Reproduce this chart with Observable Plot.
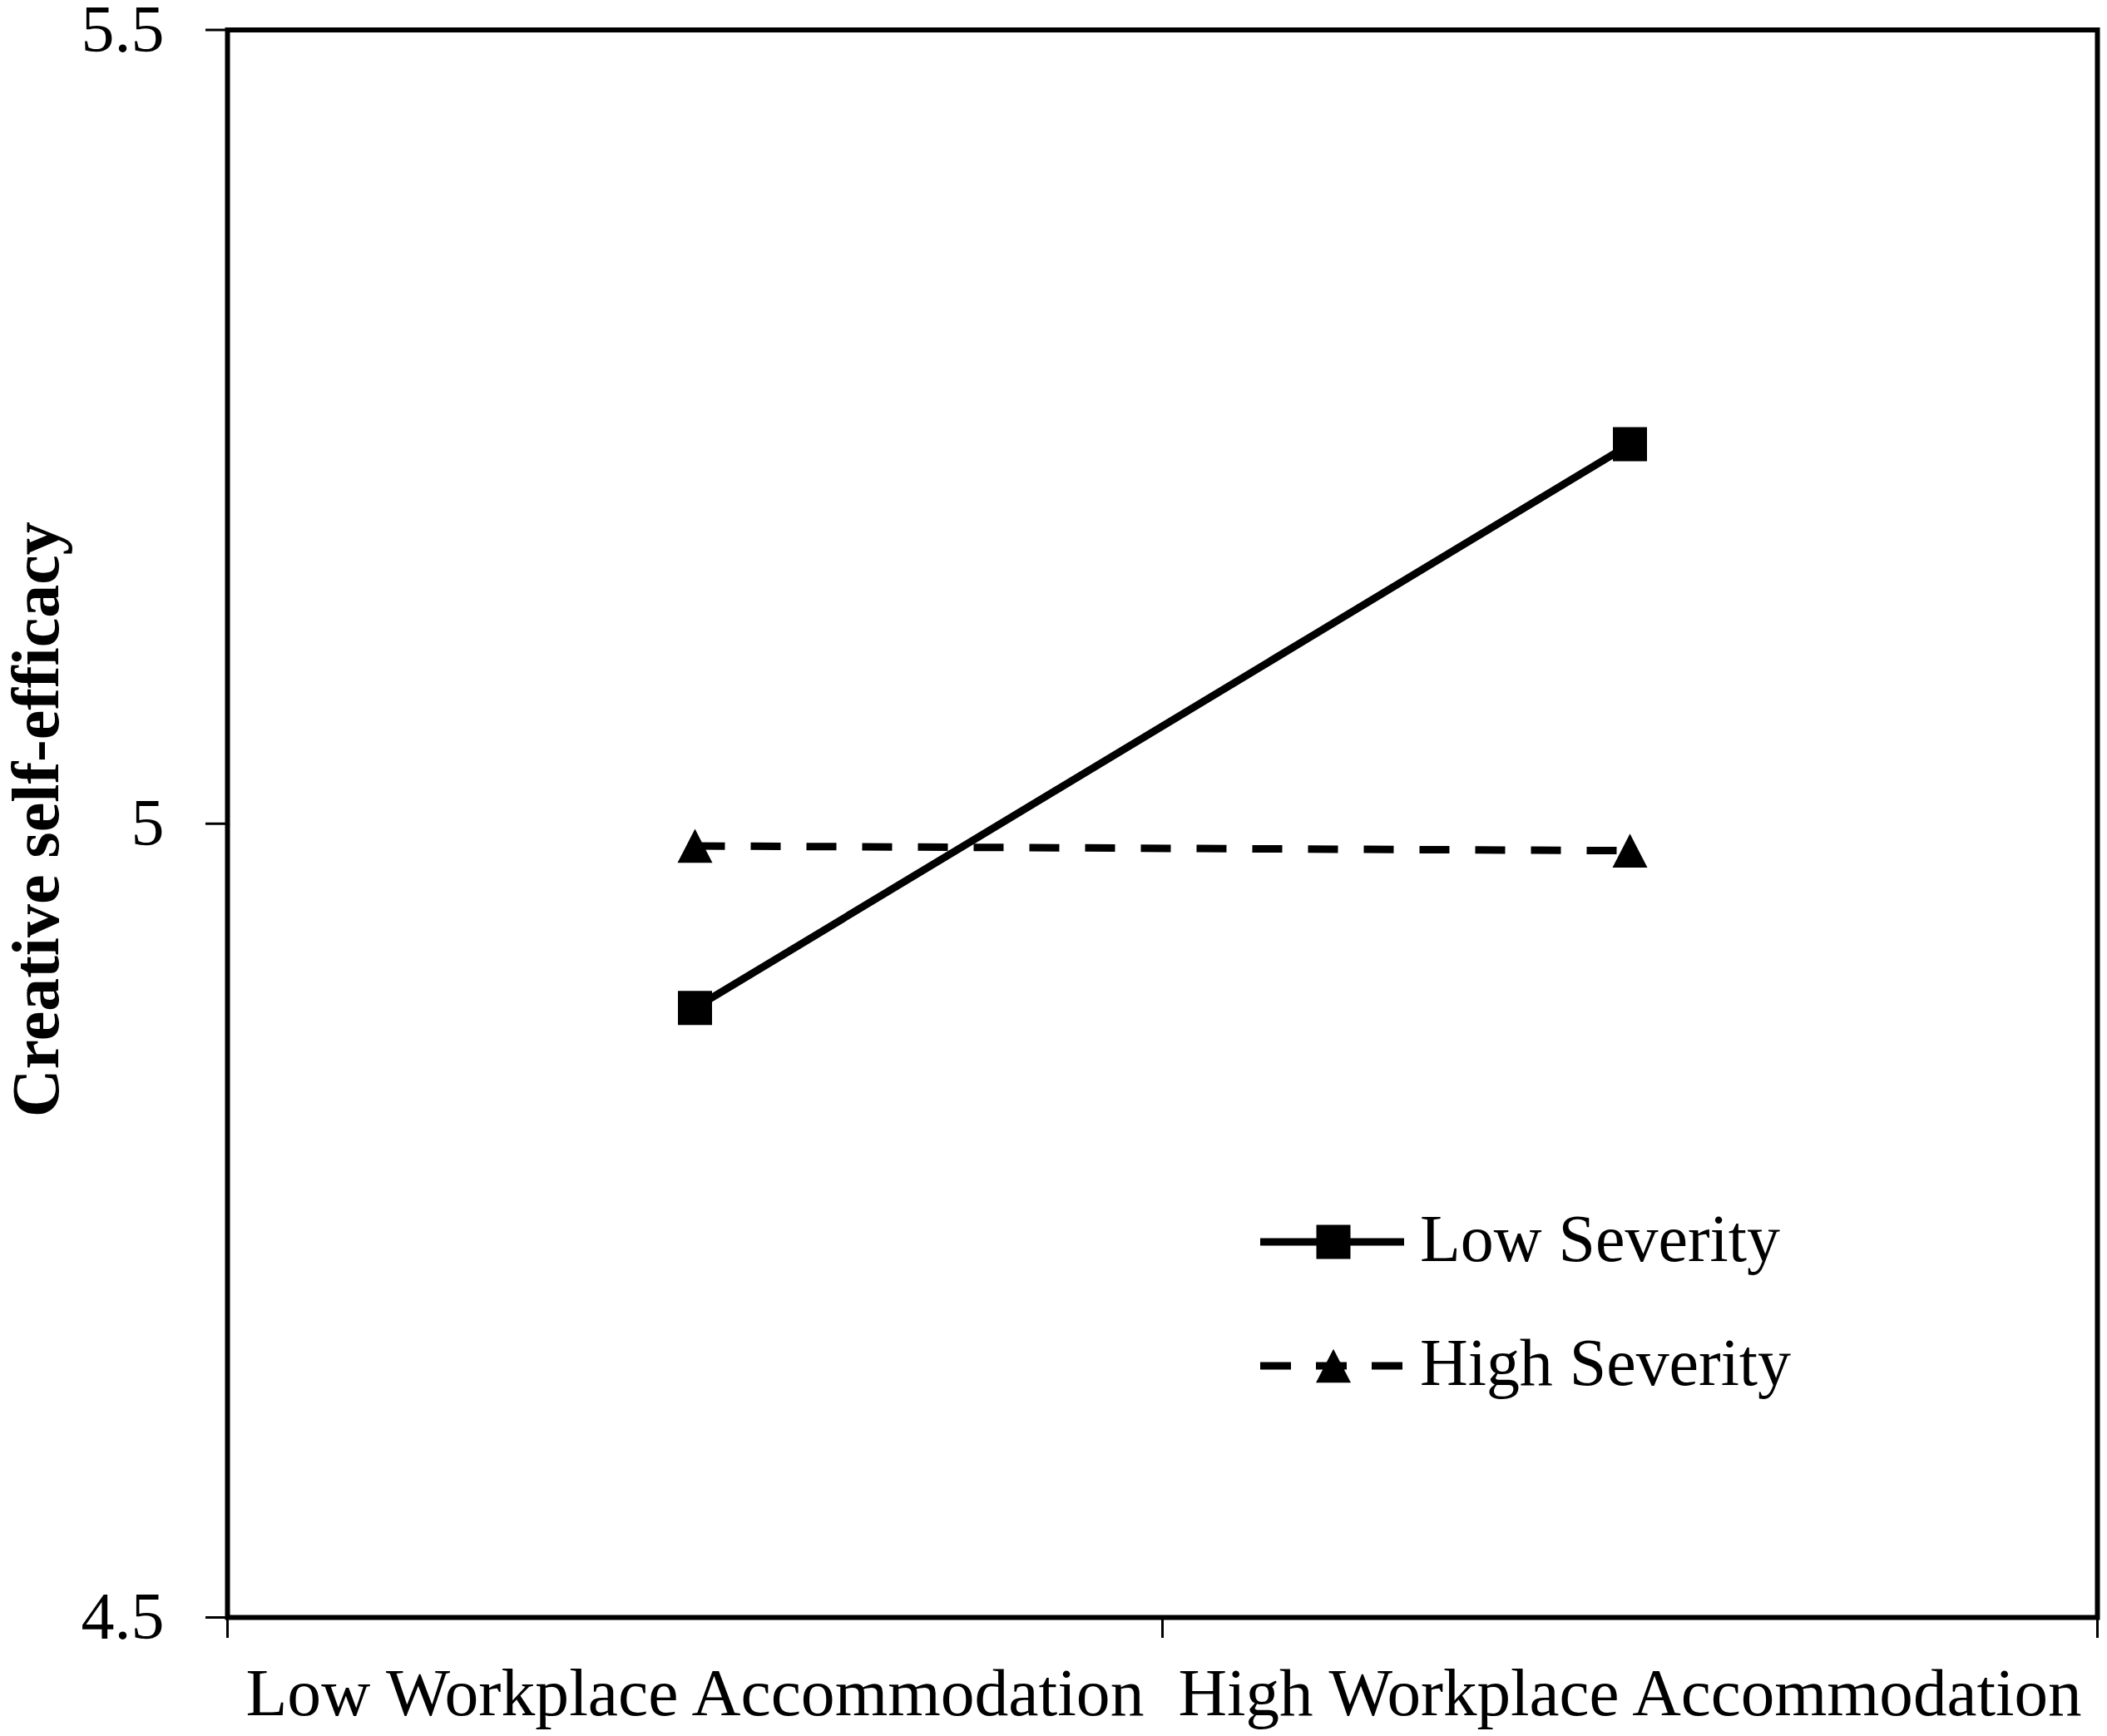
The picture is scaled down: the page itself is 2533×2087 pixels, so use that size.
<!DOCTYPE html>
<html>
<head>
<meta charset="utf-8">
<script src="https://cdn.jsdelivr.net/npm/d3@7"></script>
<script src="https://cdn.jsdelivr.net/npm/@observablehq/plot@0.6"></script>
<style>
  html, body { margin: 0; padding: 0; background: #fff; }
  #chart { position: relative; width: 2533px; height: 2087px; overflow: hidden; }
  #chart svg.legend { position: absolute; left: 0; top: 0; pointer-events: none; }
</style>
</head>
<body>
<div id="chart"></div>
<script>
// ---- data ----
const categories = ["Low Workplace Accommodation", "High Workplace Accommodation"];
const seriesNames = ["Low Severity", "High Severity"];
const lowSeverity = [4.884, 5.239];
const highSeverity = [4.986, 4.983];
const yTicks = [4.5, 5, 5.5];
const yDomain = [4.5, 5.5];
const yLabel = "Creative self-efficacy";

// ---- table built from the arrays ----
const lowRows = categories.map((c, i) => ({series: seriesNames[0], pos: i + 0.5, value: lowSeverity[i]}));
const highRows = categories.map((c, i) => ({series: seriesNames[1], pos: i + 0.5, value: highSeverity[i]}));

// ---- styles ----
const FONT = "'Liberation Serif', 'Times New Roman', serif";
const W = 2533, H = 2087;

const squareSymbol = {
  draw(ctx, size) {
    const s = Math.sqrt(size) / 2;
    ctx.moveTo(-s, -s); ctx.lineTo(s, -s); ctx.lineTo(s, s); ctx.lineTo(-s, s); ctx.closePath();
  }
};
const triangleSymbol = {
  draw(ctx, size) {
    const w = Math.sqrt(size), h = w * 0.97;
    ctx.moveTo(0, -h / 2); ctx.lineTo(w / 2, h / 2); ctx.lineTo(-w / 2, h / 2); ctx.closePath();
  }
};

const chart = Plot.plot({
  width: W,
  height: H,
  marginLeft: 273,
  marginRight: 12,
  marginTop: 35.5,
  marginBottom: 143,
  style: {fontFamily: FONT, fontSize: "80px", background: "white", color: "black", overflow: "visible"},
  x: {type: "linear", domain: [0, categories.length], axis: null},
  y: {domain: yDomain, axis: null},
  marks: [
    Plot.axisY({ticks: yTicks, tickSize: 26, tickPadding: 50, strokeWidth: 3, fontSize: 80,
                tickFormat: d => String(d), label: null}),
    Plot.axisX({ticks: d3.range(categories.length + 1), tickSize: 25, strokeWidth: 3,
                tickFormat: () => "", label: null}),
    Plot.axisX({ticks: categories.map((c, i) => i + 0.5), tickSize: 0, tickPadding: 61, fontSize: 80,
                tickFormat: d => categories[Math.floor(d)], label: null}),
    Plot.frame({stroke: "black", strokeWidth: 6}),
    Plot.line(lowRows, {x: "pos", y: "value", stroke: "black", strokeWidth: 9, strokeLinecap: "butt"}),
    Plot.line(highRows, {x: "pos", y: "value", stroke: "black", strokeWidth: 9,
                         strokeDasharray: "36,31", strokeLinecap: "butt"}),
    Plot.dot(lowRows, {x: "pos", y: "value", symbol: squareSymbol, r: 23.13, fill: "black", stroke: null}),
    Plot.dot(highRows, {x: "pos", y: "value", symbol: triangleSymbol, r: 23.7, fill: "black", stroke: null}),
    Plot.text([yLabel], {text: d => d, frameAnchor: "left", dx: -229, dy: -5, rotate: -90,
                         textAnchor: "middle", fontWeight: "bold", fontSize: 80, fill: "black"})
  ]
});

const container = document.getElementById("chart");
container.appendChild(chart);

// ---- legend (separate svg overlaid on the plot) ----
const legend = d3.create("svg")
  .attr("class", "legend")
  .attr("width", W).attr("height", H)
  .style("font-family", FONT);

const legendItems = [
  {name: seriesNames[0], y: 1493, dash: null, symbol: squareSymbol, size: 1681, tl: 433},
  {name: seriesNames[1], y: 1642, dash: "37,30", symbol: triangleSymbol, size: 1764, tl: 446}
];
legendItems.forEach(it => {
  const g = legend.append("g");
  g.append("line")
    .attr("x1", 1515).attr("x2", 1688).attr("y1", it.y).attr("y2", it.y)
    .attr("stroke", "black").attr("stroke-width", 9)
    .attr("stroke-dasharray", it.dash);
  g.append("path")
    .attr("d", d3.symbol(it.symbol, it.size)())
    .attr("transform", `translate(1603,${it.y})`)
    .attr("fill", "black");
  g.append("text")
    .attr("x", 1707).attr("y", it.y + 23)
    .attr("font-size", 80).attr("fill", "black")
    .attr("textLength", it.tl).attr("lengthAdjust", "spacingAndGlyphs")
    .text(it.name);
});
container.appendChild(legend.node());

// ---- fine text-length adjustments for the category labels ----
const textLengths = {};
textLengths[categories[0]] = 1080;
textLengths[categories[1]] = 1086;
d3.select(chart).selectAll("text").each(function() {
  const t = this.textContent;
  if (textLengths[t]) {
    this.setAttribute("textLength", textLengths[t]);
    this.setAttribute("lengthAdjust", "spacingAndGlyphs");
  }
});
</script>
</body>
</html>
